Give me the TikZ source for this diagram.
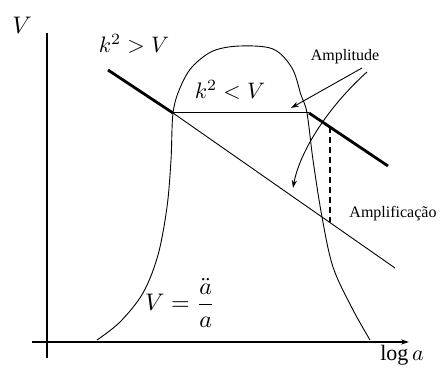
\documentclass[tikz,border=0pt]{standalone}
\usepackage{fontspec}
\setmainfont{Liberation Serif}
\usetikzlibrary{arrows.meta}
\begin{document}
\begin{tikzpicture}[x=0.5pt,y=-0.5pt,>={Stealth[length=4pt,width=2.6pt]}]
\useasboundingbox (0,0) rectangle (440,369);
\node[scale=1.2] (vlab) at (22,25) {$V$};
\node[scale=1.1] (loga) at (402,355) {$\log a$};
\node[scale=1.12] (kgt) at (134,44) {$k^2 > V$};
\node[scale=1.12] (klt) at (230,90) {$k^2 < V$};
\node[scale=1.2] (pot) at (180,303) {$\displaystyle V = \frac{\ddot a}{a}$};
\node[font=\footnotesize] (amp) at (345,57) {Amplitude};
\node[font=\footnotesize] (ampf) at (393,214) {Amplificação};

\coordinate (yend) at (47,33);
\coordinate (ybot) at (47,358);
\coordinate (xbeg) at (32,342);
\coordinate (xend) at (409,342);
\coordinate (cross) at (173,113);
\coordinate (exit) at (309,113);
\coordinate (ktop) at (108,70);
\coordinate (kend) at (388,166);
\coordinate (lend) at (395,268);
\coordinate (dtop) at (330,127);
\coordinate (dbot) at (330,222);
\coordinate (t1) at (362,68);
\coordinate (h1) at (291,108);
\coordinate (t2) at (367,72);
\coordinate (h2) at (293,188);

\draw[line width=0.7pt] (ybot) -- (yend);
\draw[line width=0.7pt,->] (xbeg) -- (xend);
\draw[line width=0.45pt] plot[smooth,tension=0.55] coordinates {(97,340) (120,322) (143,293) (158,255) (167,207) (171,160) (173,113) (180,88) (192,67) (213,51) (240,46) (273,49) (292,68) (301,95) (307,113) (313,160) (322,217) (333,267) (352,308) (370,340)};
\draw[line width=1.4pt] (ktop) -- (cross);
\draw[line width=0.5pt] (cross) -- (exit);
\draw[line width=1.4pt] (exit) -- (kend);
\draw[line width=0.45pt] (cross) -- (lend);
\draw[line width=0.6pt,dashed,dash pattern=on 3pt off 2pt] (dtop) -- (dbot);
\draw[line width=0.45pt,->] (t1) -- (h1);
\draw[line width=0.45pt,->] (t2) .. controls (330,105) and (300,150) .. (h2);
\end{tikzpicture}
\end{document}
